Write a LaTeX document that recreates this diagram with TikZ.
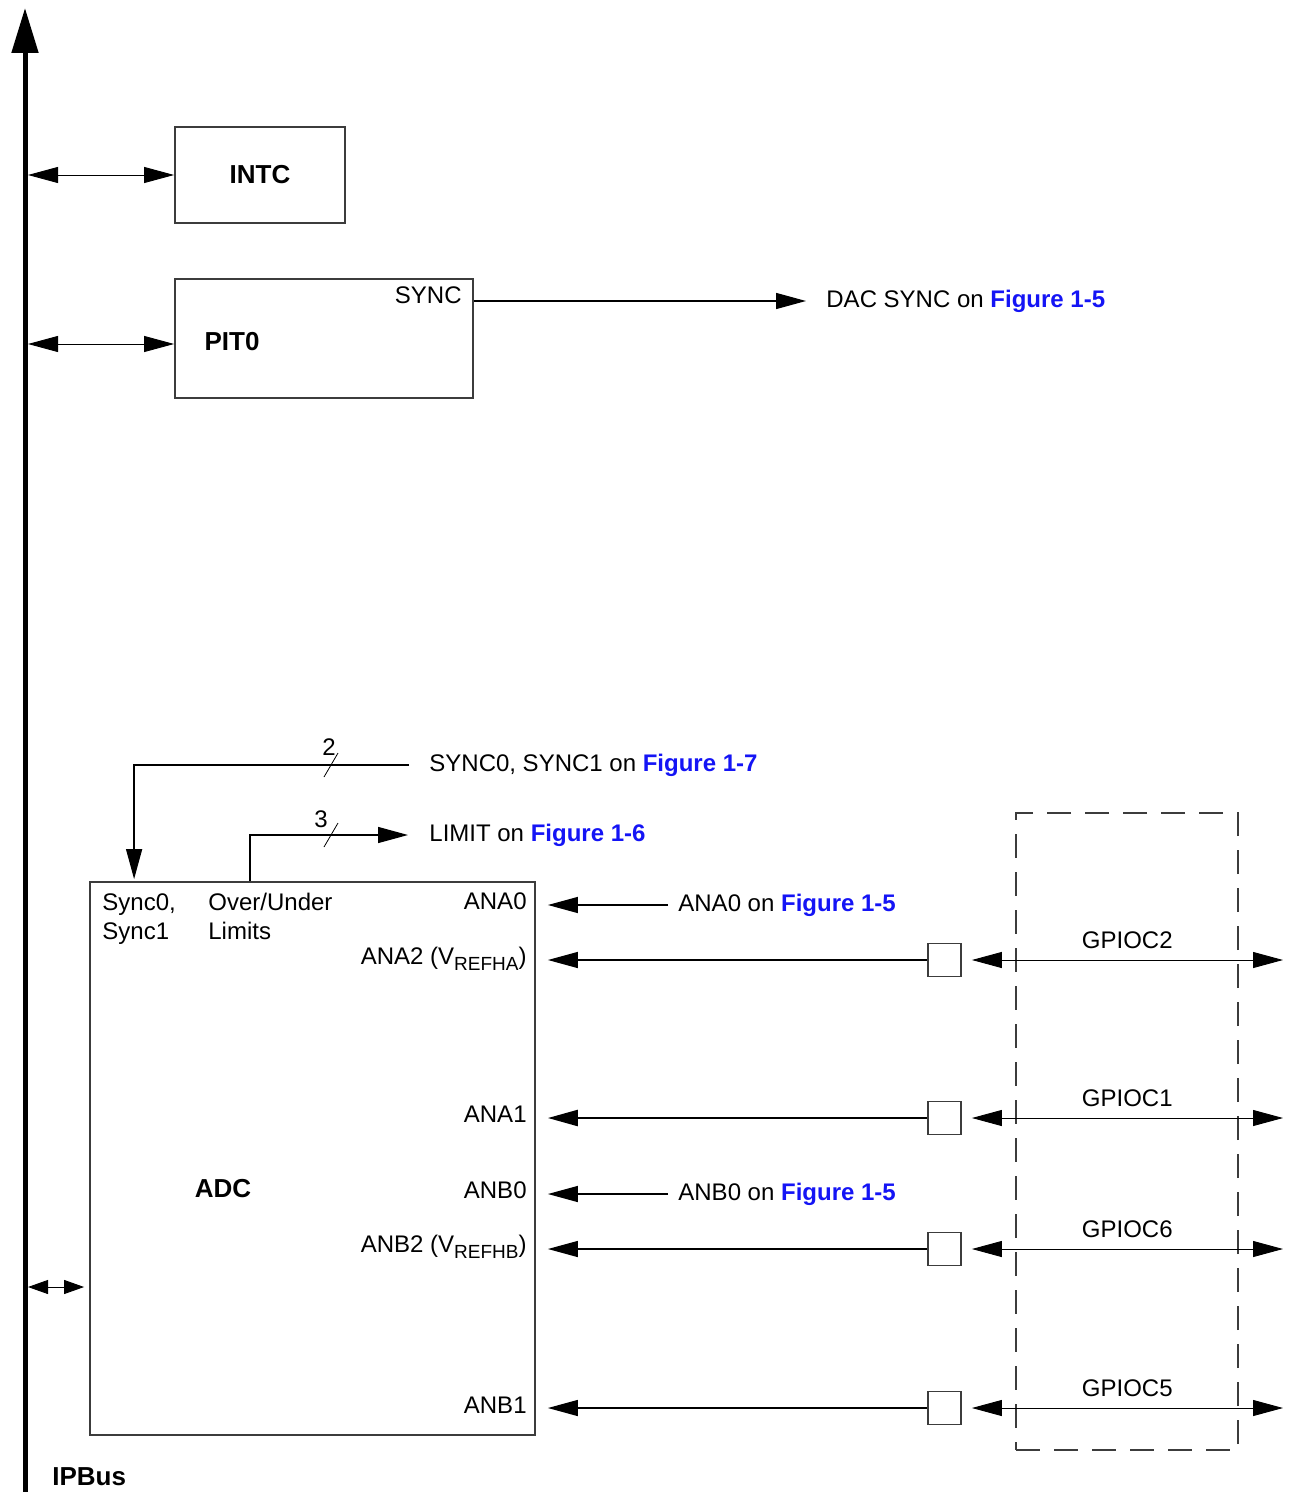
\documentclass[tikz,border=0pt]{standalone}
\usepackage{fontspec}
\setmainfont{Liberation Sans}
\usetikzlibrary{arrows.meta}
\definecolor{figblue}{RGB}{20,20,245}
\definecolor{boxgray}{RGB}{60,60,60}
\newcommand{\figref}[1]{\textcolor{figblue}{\bfseries Figure #1}}
\newcommand{\refsub}[1]{\raisebox{-3pt}{\fontsize{9.5}{10}\selectfont #1}}

\begin{document}
\begin{tikzpicture}[x=0.5pt,y=-0.5pt,
  font=\fontsize{12}{14.5}\selectfont,
  >={Triangle[length=15pt,width=8pt]},
  blk/.style={draw=boxgray,line width=0.9pt,inner sep=0pt},
  pad/.style={draw=boxgray,line width=0.9pt,minimum size=16.5pt,inner sep=0pt},
  lbl/.style={inner sep=1pt,text height=9pt,text depth=2.5pt},
  big/.style={font=\fontsize{13}{15}\selectfont\bfseries},
  tip/.style={line width=0.7pt,->},
  both/.style={line width=0.45pt,<->},
  smallboth/.style={line width=0.45pt,{Triangle[length=10pt,width=7pt]}-{Triangle[length=10pt,width=7pt]}}]
\useasboundingbox (0,0) rectangle (1291,1492);

% IPBus
\coordinate (busbot) at (25,1492);
\coordinate (bustop) at (25,8);
\draw[line width=2.5pt,-{Triangle[length=22.5pt,width=13pt]}] (busbot) -- (bustop);
\node[big,lbl,anchor=west] (ipbus) at (50,1479) {IPBus};

% INTC and PIT0
\node[blk,big,minimum width=85pt,minimum height=48pt] (intc) at (260,175) {INTC};
\node[blk,minimum width=149pt,minimum height=59.5pt] (pit) at (324,338.5) {};
\node[big,lbl] (pitlbl) at (232,344) {PIT0};
\node[lbl,anchor=east] (pitsync) at (464,297) {SYNC};
\coordinate (b1) at (28,175);
\coordinate (b2) at (28,344);
\draw[both] (b1) -- (intc.west);
\draw[both] (b2) -- (b2 -| pit.west);
\node[lbl,anchor=west] (dac) at (824,301) {DAC SYNC on \figref{1-5}};
\draw[tip,shorten >=9pt] (dac.west -| pit.east) -- (dac.west);

% ADC
\node[blk,minimum width=222.5pt,minimum height=276.5pt] (adc) at (312.5,1158.5) {};
\node[inner sep=1pt,align=left,anchor=north west] (sync) at (100,891) {Sync0,\\Sync1};
\node[inner sep=1pt,align=left,anchor=north west] (ovr) at (206,891) {Over/Under\\Limits};
\node[big,lbl] (adclbl) at (223,1191) {ADC};
\node[lbl,anchor=east] (ana0) at (529,903) {ANA0};
\node[lbl,anchor=east] (ana2) at (529,958) {ANA2 (V\refsub{REFHA})};
\node[lbl,anchor=east] (ana1) at (529,1116) {ANA1};
\node[lbl,anchor=east] (anb0) at (529,1192) {ANB0};
\node[lbl,anchor=east] (anb2) at (529,1246) {ANB2 (V\refsub{REFHB})};
\node[lbl,anchor=east] (anb1) at (529,1407) {ANB1};
\coordinate (b3) at (28,1287);
\draw[smallboth,shorten >=2.5pt] (b3) -- (b3 -| adc.west);

% sync and limit
\node[lbl,anchor=west] (s7) at (427,765) {SYNC0, SYNC1 on \figref{1-7}};
\node[lbl,anchor=west] (lim) at (427,835) {LIMIT on \figref{1-6}};
\draw[tip,shorten >=1pt] ([xshift=-9pt]s7.west) -| ([xshift=22.5pt]adc.north west);
\draw[tip,shorten >=9.5pt] ([xshift=80.5pt]adc.north west) |- (lim.west);
\draw[line width=0.4pt] (331,765) ++(-3.5pt,-6pt) -- ++(7pt,12pt);
\node[lbl] (n2) at (329,749) {2};
\draw[line width=0.4pt] (331,835) ++(-3.5pt,-6pt) -- ++(7pt,12pt);
\node[lbl] (n3) at (321,821) {3};

% analog inputs
\node[lbl,anchor=west] (a0ref) at (676,905) {ANA0 on \figref{1-5}};
\node[lbl,anchor=west] (b0ref) at (676,1194) {ANB0 on \figref{1-5}};
\draw[tip,shorten >=6pt] ([xshift=-4pt]a0ref.west) -- (a0ref.west -| adc.east);
\draw[tip,shorten >=6pt] ([xshift=-4pt]b0ref.west) -- (b0ref.west -| adc.east);

% GPIO pads
\node[draw=boxgray,line width=0.9pt,dash pattern=on 12pt off 7pt,minimum width=111pt,minimum height=318.5pt] (gpio) at (1127,1131.5) {};
\foreach \n/\y/\t/\w in {2/960/GPIOC2/0.7pt, 1/1118/GPIOC1/1.2pt, 6/1249/GPIOC6/0.7pt, 5/1408/GPIOC5/0.7pt} {
  \node[pad] (pad\n) at (944.5,\y) {};
  \coordinate (gp\n) at (1283,\y);
  \draw[tip,line width=\w,shorten >=6pt] (pad\n.west) -- (pad\n.west -| adc.east);
  \draw[both,shorten <=5pt] (pad\n.east) -- (gp\n) node[pos=0.515,lbl,above=2pt] {\t};
}
\end{tikzpicture}
\end{document}
